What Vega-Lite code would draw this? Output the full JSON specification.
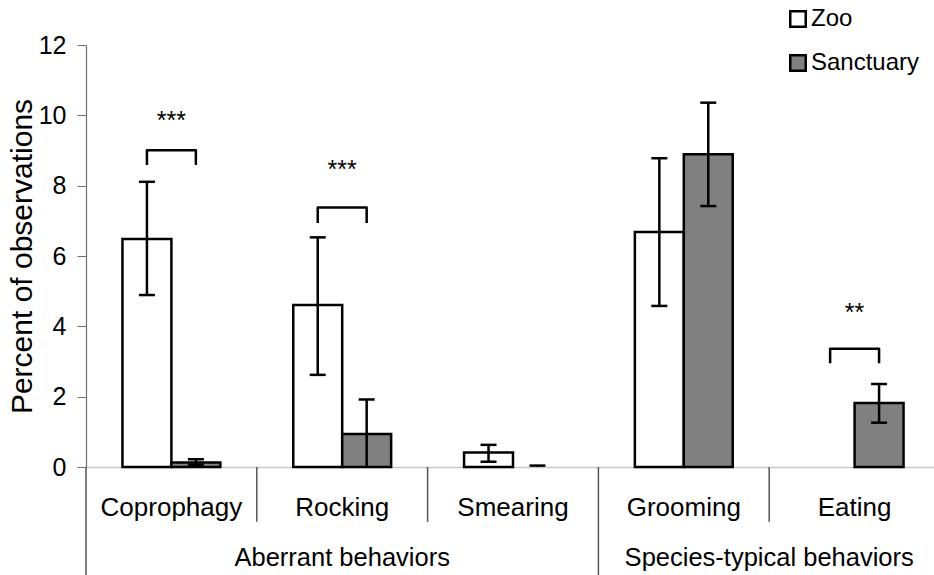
{
  "$schema": "https://vega.github.io/schema/vega-lite/v6.json",
  "width": 854,
  "height": 422,
  "autosize": "none",
  "padding": {"left": 86, "top": 45, "right": 0, "bottom": 108},
  "background": "white",
  "config": {
    "font": "Liberation Sans",
    "view": {"stroke": null},
    "axisX": {"labelAngle": 0, "ticks": false, "tickSize": 0, "labelFontSize": 26, "labelColor": "black", "labelPadding": 48, "labelBaseline": "alphabetic", "domainColor": "#c8c8c8", "domainWidth": 1.5, "grid": false},
    "axisY": {"grid": false, "domainColor": "#707070", "domainWidth": 1.2, "tickColor": "#707070", "tickSize": 9, "labelFontSize": 25, "labelPadding": 11, "labelColor": "black", "titleFontSize": 30, "titleFontWeight": "normal", "titleColor": "black", "titlePadding": 1}
  },
  "datasets": {
    "bars": [
      {"cat": "Coprophagy", "group": "Zoo", "value": 6.48, "lo": 4.89, "hi": 8.11},
      {"cat": "Coprophagy", "group": "Sanctuary", "value": 0.13, "lo": 0.06, "hi": 0.22},
      {"cat": "Rocking", "group": "Zoo", "value": 4.61, "lo": 2.62, "hi": 6.53},
      {"cat": "Rocking", "group": "Sanctuary", "value": 0.94, "lo": 0, "hi": 1.92},
      {"cat": "Smearing", "group": "Zoo", "value": 0.41, "lo": 0.15, "hi": 0.63},
      {"cat": "Smearing", "group": "Sanctuary", "value": 0, "lo": 0, "hi": 0.04},
      {"cat": "Grooming", "group": "Zoo", "value": 6.68, "lo": 4.58, "hi": 8.78},
      {"cat": "Grooming", "group": "Sanctuary", "value": 8.89, "lo": 7.42, "hi": 10.36},
      {"cat": "Eating", "group": "Zoo", "value": 0, "lo": null, "hi": null},
      {"cat": "Eating", "group": "Sanctuary", "value": 1.82, "lo": 1.26, "hi": 2.36}
    ],
    "brackets": [
      {"cat": "Coprophagy", "group": "Zoo", "y": 8.59, "k": 1},
      {"cat": "Coprophagy", "group": "Zoo", "y": 9.01, "k": 2},
      {"cat": "Coprophagy", "group": "Sanctuary", "y": 9.01, "k": 3},
      {"cat": "Coprophagy", "group": "Sanctuary", "y": 8.59, "k": 4},
      {"cat": "Rocking", "group": "Zoo", "y": 6.94, "k": 1},
      {"cat": "Rocking", "group": "Zoo", "y": 7.38, "k": 2},
      {"cat": "Rocking", "group": "Sanctuary", "y": 7.38, "k": 3},
      {"cat": "Rocking", "group": "Sanctuary", "y": 6.94, "k": 4},
      {"cat": "Eating", "group": "Zoo", "y": 2.95, "k": 1},
      {"cat": "Eating", "group": "Zoo", "y": 3.36, "k": 2},
      {"cat": "Eating", "group": "Sanctuary", "y": 3.36, "k": 3},
      {"cat": "Eating", "group": "Sanctuary", "y": 2.95, "k": 4}
    ],
    "stars": [
      {"cat": "Coprophagy", "stars": "***", "y": 9.62},
      {"cat": "Rocking", "stars": "***", "y": 8.23},
      {"cat": "Eating", "stars": "**", "y": 4.16}
    ]
  },
  "layer": [
    {
      "data": {"values": [{"cat": "Rocking"}, {"cat": "Smearing"}, {"cat": "Eating"}]},
      "mark": {"type": "rule", "color": "#555555", "strokeWidth": 1.5},
      "encoding": {
        "x": {"field": "cat", "type": "nominal", "bandPosition": 0, "title": null},
        "y": {"datum": 0, "type": "quantitative", "title": "Percent of observations"},
        "y2": {"datum": -1.56}
      }
    },
    {
      "data": {"values": [{"cat": "Coprophagy"}, {"cat": "Grooming"}]},
      "mark": {"type": "rule", "color": "#555555", "strokeWidth": 1.5},
      "encoding": {
        "x": {"field": "cat", "type": "nominal", "bandPosition": 0, "title": null},
        "y": {"datum": 0, "type": "quantitative", "title": "Percent of observations"},
        "y2": {"datum": -3.2}
      }
    },
    {
      "data": {"name": "bars"},
      "transform": [{"filter": "datum.value > 0"}],
      "mark": {"type": "bar", "stroke": "black", "strokeWidth": 2.5, "opacity": 1},
      "encoding": {
        "x": {
          "field": "cat", "type": "nominal", "title": null,
          "scale": {"domain": ["Coprophagy", "Rocking", "Smearing", "Grooming", "Eating"], "paddingInner": 0, "paddingOuter": 0}
        },
        "xOffset": {"field": "group", "type": "nominal", "scale": {"domain": ["Zoo", "Sanctuary"], "paddingInner": 0, "paddingOuter": 0.745}},
        "y": {
          "field": "value", "type": "quantitative", "title": "Percent of observations",
          "scale": {"domain": [0, 12], "nice": false, "zero": true},
          "axis": {"values": [0, 2, 4, 6, 8, 10, 12]}
        },
        "color": {
          "field": "group", "type": "nominal",
          "scale": {"domain": ["Zoo", "Sanctuary"], "range": ["#ffffff", "#808080"]},
          "legend": {"orient": "none", "legendX": 700, "legendY": -38, "title": null, "symbolType": "square", "symbolSize": 240, "symbolStrokeColor": "black", "symbolStrokeWidth": 2.5, "symbolOpacity": 1, "labelFontSize": 24, "labelColor": "black", "rowPadding": 18, "labelOffset": 1, "padding": 0}
        }
      }
    },
    {
      "data": {"name": "bars"},
      "transform": [{"filter": "datum.hi != null"}],
      "mark": {"type": "rule", "color": "black", "strokeWidth": 2.5},
      "encoding": {
        "x": {"field": "cat", "type": "nominal", "title": null},
        "xOffset": {"field": "group", "type": "nominal"},
        "y": {"field": "lo", "type": "quantitative", "title": "Percent of observations"},
        "y2": {"field": "hi"}
      }
    },
    {
      "data": {"name": "bars"},
      "transform": [{"filter": "datum.hi != null && datum.lo > 0"}],
      "mark": {"type": "tick", "color": "black", "thickness": 2.5, "size": 16, "opacity": 1},
      "encoding": {
        "x": {"field": "cat", "type": "nominal", "title": null},
        "xOffset": {"field": "group", "type": "nominal"},
        "y": {"field": "lo", "type": "quantitative", "title": "Percent of observations"}
      }
    },
    {
      "data": {"name": "bars"},
      "transform": [{"filter": "datum.hi != null"}],
      "mark": {"type": "tick", "color": "black", "thickness": 2.5, "size": 16, "opacity": 1},
      "encoding": {
        "x": {"field": "cat", "type": "nominal", "title": null},
        "xOffset": {"field": "group", "type": "nominal"},
        "y": {"field": "hi", "type": "quantitative", "title": "Percent of observations"}
      }
    },
    {
      "data": {"name": "brackets"},
      "mark": {"type": "line", "color": "black", "strokeWidth": 2.5, "strokeJoin": "round"},
      "encoding": {
        "x": {"field": "cat", "type": "nominal", "title": null},
        "xOffset": {"field": "group", "type": "nominal"},
        "y": {"field": "y", "type": "quantitative", "title": "Percent of observations"},
        "detail": {"field": "cat"},
        "order": {"field": "k"}
      }
    },
    {
      "data": {"name": "stars"},
      "mark": {"type": "text", "fontSize": 25, "color": "black", "baseline": "alphabetic", "align": "center"},
      "encoding": {
        "x": {"field": "cat", "type": "nominal", "title": null},
        "y": {"field": "y", "type": "quantitative", "title": "Percent of observations"},
        "text": {"field": "stars"}
      }
    },
    {
      "data": {"values": [{"label": "Aberrant behaviors", "cat": "Rocking"}]},
      "mark": {"type": "text", "fontSize": 25.5, "color": "black", "baseline": "alphabetic", "align": "center"},
      "encoding": {
        "x": {"field": "cat", "type": "nominal", "bandPosition": 0.5, "title": null},
        "y": {"datum": -2.82, "type": "quantitative", "title": "Percent of observations"},
        "text": {"field": "label"}
      }
    },
    {
      "data": {"values": [{"label": "Species-typical behaviors", "cat": "Eating"}]},
      "mark": {"type": "text", "fontSize": 25.5, "color": "black", "baseline": "alphabetic", "align": "center"},
      "encoding": {
        "x": {"field": "cat", "type": "nominal", "bandPosition": 0, "title": null},
        "y": {"datum": -2.82, "type": "quantitative", "title": "Percent of observations"},
        "text": {"field": "label"}
      }
    }
  ]
}
